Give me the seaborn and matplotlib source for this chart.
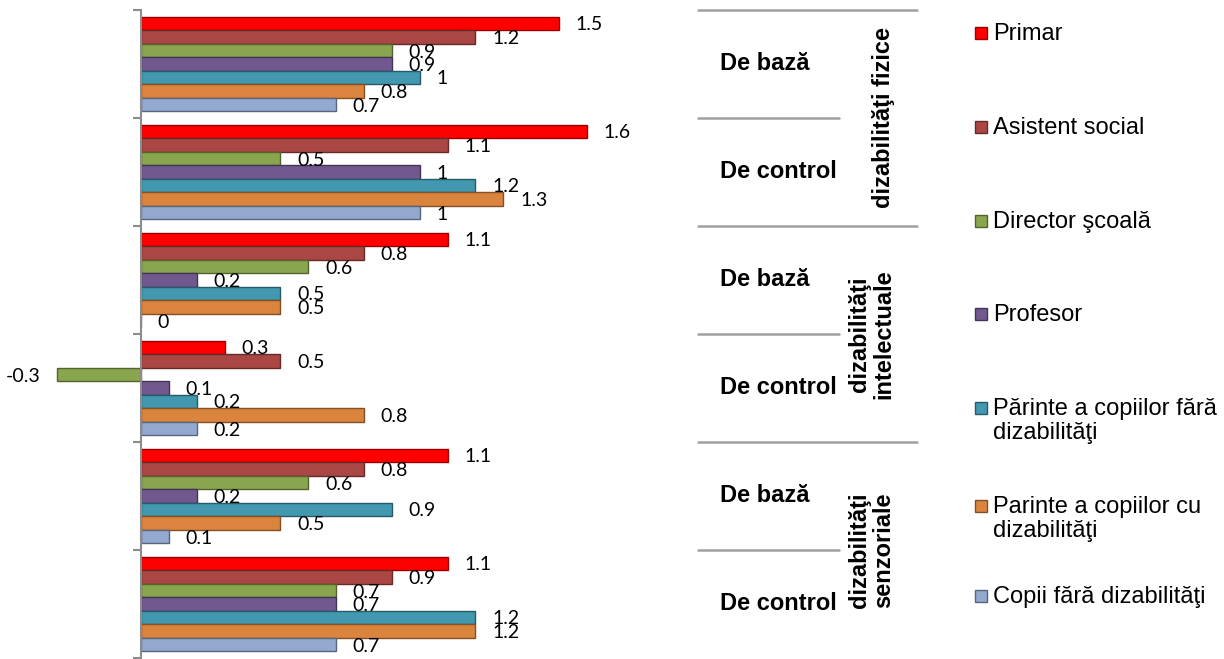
import matplotlib
matplotlib.use("Agg")
import matplotlib.pyplot as plt
import matplotlib.colors as mcolors
import matplotlib.transforms as mtransforms
from matplotlib.patches import Rectangle
from matplotlib.lines import Line2D
import seaborn as sns
import pandas as pd

# ---------------- data ----------------
groups = ["fizice - De bază", "fizice - De control",
          "intelectuale - De bază", "intelectuale - De control",
          "senzoriale - De bază", "senzoriale - De control"]
sub_labels = ["De bază", "De control", "De bază", "De control", "De bază", "De control"]
main_labels = ["dizabilităţi fizice", "dizabilităţi\nintelectuale", "dizabilităţi\nsenzoriale"]
series = ["Primar", "Asistent social", "Director şcoală", "Profesor",
          "Părinte a copiilor fără dizabilităţi", "Parinte a copiilor cu dizabilităţi",
          "Copii fără dizabilităţi"]
legend_labels = ["Primar", "Asistent social", "Director şcoală", "Profesor",
                 "Părinte a copiilor fără\ndizabilităţi", "Parinte a copiilor cu\ndizabilităţi",
                 "Copii fără dizabilităţi"]
primar = [1.5, 1.6, 1.1, 0.3, 1.1, 1.1]
asistent = [1.2, 1.1, 0.8, 0.5, 0.8, 0.9]
director = [0.9, 0.5, 0.6, -0.3, 0.6, 0.7]
profesor = [0.9, 1.0, 0.2, 0.1, 0.2, 0.7]
parinte_fara = [1.0, 1.2, 0.5, 0.2, 0.9, 1.2]
parinte_cu = [0.8, 1.3, 0.5, 0.8, 0.5, 1.2]
copii = [0.7, 1.0, 0.0, 0.2, 0.1, 0.7]
colors = ["#FF0000", "#AA4644", "#89A54E", "#71588F", "#4198AF", "#DB843D", "#93A9CF"]

values = [primar, asistent, director, profesor, parinte_fara, parinte_cu, copii]
rows = []
for s, vals in zip(series, values):
    for g, v in zip(groups, vals):
        rows.append({"grupa": g, "respondent": s, "valoare": v})
df = pd.DataFrame(rows)

# ---------------- figure ----------------
W, H = 1224, 659
sns.set_style("white")
plt.rcParams["font.family"] = ["Liberation Sans", "DejaVu Sans"]
plt.rcParams["text.color"] = "black"
fig = plt.figure(figsize=(W / 100, H / 100), dpi=100)

ax_l, ax_r, ax_t, ax_b = 10, 690, 10, 658
ax = fig.add_axes([ax_l / W, 1 - ax_b / H, (ax_r - ax_l) / W, (ax_b - ax_t) / H])

sns.barplot(data=df, y="grupa", x="valoare", hue="respondent", orient="h",
            order=groups, hue_order=series, palette=colors, saturation=1,
            width=0.875, errorbar=None, legend=False, ax=ax)

zero_px, scale = 141, 278.7
ax.set_xlim((ax_l - zero_px) / scale, (ax_r - zero_px) / scale)
ax.set_ylim(len(groups) - 0.5, -0.5)

for p in ax.patches:
    fc = mcolors.to_rgb(p.get_facecolor())
    p.set_edgecolor(tuple(c * 0.6 for c in fc))
    p.set_linewidth(1.0)

for cont in ax.containers:
    texts = ax.bar_label(cont, fmt="{:g}", padding=12, fontsize=14,
                         family=["Lato", "DejaVu Sans"], color="black")
    for t in texts:
        t.set_va("center_baseline")

for sp in ["top", "right", "bottom"]:
    ax.spines[sp].set_visible(False)
ax.spines["left"].set_position(("data", 0))
ax.spines["left"].set_color("#8C8C8C")
ax.spines["left"].set_linewidth(1.5)
ax.set_yticks([i - 0.5 for i in range(len(groups) + 1)])
ax.set_yticklabels([])
ax.tick_params(axis="y", direction="out", length=6, width=1.5, color="#8C8C8C", left=True)
ax.set_xticks([])
ax.set_xlabel("")
ax.set_ylabel("")

# ---------------- category labels on the right ----------------
trans = mtransforms.blended_transform_factory(fig.transFigure, ax.transData)
for i, lab in enumerate(sub_labels):
    fig.text(720 / W, i, lab, transform=trans, ha="left", va="center",
             fontsize=17, fontweight="bold", color="black")
for j, lab in enumerate(main_labels):
    fig.text(895 / W, 2 * j + 0.5, lab, transform=trans, ha="right", va="center",
             rotation=90, fontsize=17, fontweight="bold", multialignment="center",
             linespacing=1.05, color="black")
for k in range(len(groups)):
    yb = k - 0.5
    x_end = 917 if k % 2 == 0 else 839
    fig.add_artist(Line2D([698 / W, x_end / W], [yb, yb], transform=trans,
                          color="#A0A0A0", lw=1.8))

# ---------------- legend ----------------
marker_y = [33, 127, 221, 314, 408, 506, 596]
for lab, col, my in zip(legend_labels, colors, marker_y):
    fc = mcolors.to_rgb(col)
    fig.add_artist(Rectangle((975 / W, 1 - (my + 6) / H), 12 / W, 12 / H,
                             transform=fig.transFigure, facecolor=col,
                             edgecolor=tuple(c * 0.6 for c in fc), lw=1.0))
    fig.text(993 / W, 1 - (my - 10) / H, lab, ha="left", va="top",
             fontsize=17, linespacing=1.1, color="black")

fig.savefig("out.png", dpi=100)
